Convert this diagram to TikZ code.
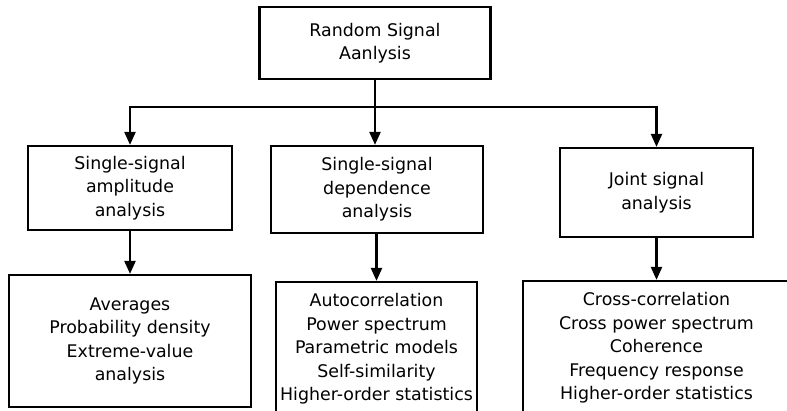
\documentclass[tikz,border=0pt]{standalone}
\usepackage{fontspec}
\setmainfont{DejaVu Sans}
\usetikzlibrary{arrows.meta}

\begin{document}
\begin{tikzpicture}[
    x = 1pt, y = -1pt,
    box/.style = {
    rectangle,
    draw,
    line width = 2.2pt,
    align = center,
    inner sep = 0pt,
    font = \fontsize{17.4}{23.5}\selectfont
    },
    link/.style = {line width = 2.2pt},
    arrow/.style = {line width = 2.2pt, -{Triangle[width=11pt,length=13pt]}}
    ]
    \useasboundingbox (0,0) rectangle (787,411);
    \clip (0,0) rectangle (787,411);
    \node[
    box,
    minimum width = 231pt,
    minimum height = 72pt
    ] (top) at (375,43){Random Signal\\Aanlysis};
    \node[
    box,
    minimum width = 204pt,
    minimum height = 84pt
    ] (amp) at (130,188){Single-signal\\amplitude\\analysis};
    \node[
    box,
    minimum width = 212pt,
    minimum height = 87pt
    ] (dep) at (377,189.5){Single-signal\\dependence\\analysis};
    \node[
    box,
    minimum width = 193pt,
    minimum height = 89pt
    ] (joint) at (656.5,192.5){Joint signal\\analysis};
    \node[
    box,
    minimum width = 242pt,
    minimum height = 132pt
    ] (ampres) at (130,341){Averages\\Probability density\\Extreme-value\\analysis};
    \node[
    box,
    minimum width = 201pt,
    minimum height = 134pt
    ] (depres) at (376.5,349){Autocorrelation\\Power spectrum\\Parametric models\\Self-similarity\\Higher-order statistics};
    \node[
    box,
    minimum width = 267pt,
    minimum height = 134pt
    ] (jointres) at (656.5,348){Cross-correlation\\Cross power spectrum\\Coherence\\Frequency response\\Higher-order statistics};
    % tree links
    \coordinate (hub) at (375,107);
    \draw[link] (top.south) -- (hub);
    \draw[arrow] (hub) -| (amp.north);
    \draw[arrow] (hub) -- (hub |- dep.north);
    \draw[arrow] (hub) -| (joint.north);
    \draw[arrow] (amp.south) -- (ampres.north);
    \draw[arrow] (dep.south -| depres.north) -- (depres.north);
    \draw[arrow] (joint.south) -- (jointres.north);
  \end{tikzpicture}
\end{document}
